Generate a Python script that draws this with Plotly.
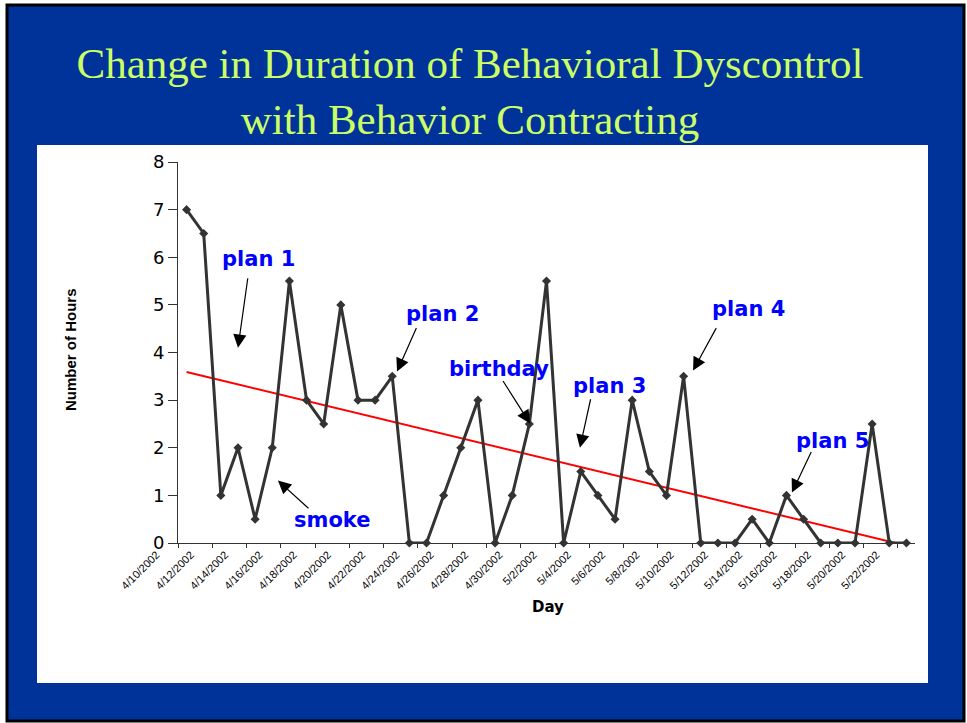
"""Change in duration of behavioral dyscontrol, redrawn with Plotly."""

import numpy as np
import pandas as pd
import plotly.graph_objects as go

# one category per day, 4/10/2002 .. 5/22/2002
days = [f"{d.month}/{d.day}/{d.year}" for d in pd.date_range("2002-04-10", "2002-05-22")]

hours = [
    7, 6.5, 1, 2, 0.5, 2, 5.5, 3, 2.5, 5, 3, 3, 3.5, 0, 0,
    1, 2, 3, 0, 1, 2.5, 5.5, 0, 1.5, 1, 0.5, 3, 1.5, 1, 3.5,
    0, 0, 0, 0.5, 0, 1, 0.5, 0, 0, 0, 2.5, 0, 0,
]

event_labels = ["plan 1", "smoke", "plan 2", "birthday", "plan 3", "plan 4", "plan 5"]

W, H = 967, 723
L, R, T, B = 178, 915, 162, 543  # plot area in pixels


def paper(x, y):
    """Pixel position on the page -> paper coordinates."""
    return (x - L) / (R - L), (B - y) / (B - T)


# linear trend, same as the Excel trendline
idx = np.arange(len(hours))
slope, icept = np.polyfit(idx, hours, 1)
trend = slope * idx + icept

fig = go.Figure()

fig.add_trace(
    go.Scatter(
        x=days,
        y=trend,
        mode="lines",
        line=dict(color="#ff0000", width=2),
        hoverinfo="skip",
        showlegend=False,
    )
)

fig.add_trace(
    go.Scatter(
        x=days,
        y=hours,
        mode="lines+markers",
        line=dict(color="#333333", width=3),
        marker=dict(symbol="diamond", size=7, color="#333333"),
        cliponaxis=False,
        showlegend=False,
    )
)

# background: blue slide with black frame, white chart box
x0, y0 = paper(7, 721)
x1, y1 = paper(964, 5)
fig.add_shape(type="rect", xref="paper", yref="paper", x0=x0, y0=y0, x1=x1, y1=y1,
              fillcolor="#003399", line=dict(color="black", width=3), layer="below")
x0, y0 = paper(37, 683)
x1, y1 = paper(928, 145)
fig.add_shape(type="rect", xref="paper", yref="paper", x0=x0, y0=y0, x1=x1, y1=y1,
              fillcolor="white", line=dict(width=0), layer="below")

# event callouts: text position and arrow tip in data units, arrow tail offset in px
callouts = [
    (4.22, 5.97, 3.0, 4.10, 10, -71),
    (8.48, 0.49, 5.33, 1.31, 32, 29),
    (14.96, 4.80, 12.28, 3.60, 20, -45),
    (18.23, 3.66, 20.04, 2.51, -28, -44),
    (24.70, 3.30, 22.95, 2.00, 11, -50),
    (32.76, 4.92, 29.55, 3.62, 24, -44),
    (37.66, 2.15, 35.32, 1.06, 20, -42),
]
for label, (tx, ty, hx, hy, ax, ay) in zip(event_labels, callouts):
    fig.add_annotation(
        x=tx, y=ty, text=f"<b>{label}</b>", showarrow=False,
        font=dict(family="DejaVu Sans", size=21, color="#0000ff"),
    )
    fig.add_annotation(
        x=hx, y=hy, text="", showarrow=True, ax=ax, ay=ay,
        arrowhead=2, arrowsize=2.2, arrowwidth=1.2, arrowcolor="black",
    )

# axis titles
xt, yt = paper(548, 607)
fig.add_annotation(xref="paper", yref="paper", x=xt, y=yt, text="<b>Day</b>",
                   xanchor="center", yanchor="middle", showarrow=False,
                   font=dict(family="DejaVu Sans", size=15, color="black"))
xt, yt = paper(70, 350)
fig.add_annotation(xref="paper", yref="paper", x=xt, y=yt, text="<b>Number of Hours</b>",
                   textangle=-90, xanchor="center", yanchor="middle", showarrow=False,
                   font=dict(family="Liberation Sans", size=15, color="black"))

fig.update_layout(
    width=W,
    height=H,
    margin=dict(l=L, r=W - R, t=T, b=H - B),
    paper_bgcolor="white",
    plot_bgcolor="rgba(0,0,0,0)",
    title=dict(
        text="Change in Duration of Behavioral Dyscontrol<br>with Behavior Contracting",
        x=470 / W,
        xanchor="center",
        y=1 - 78 / H,
        yanchor="middle",
        font=dict(family="Liberation Serif", size=43, color="#ccff66"),
    ),
)

fig.update_xaxes(
    type="category",
    range=[-0.5, len(days) - 0.5],
    tickmode="linear",
    tick0=0,
    dtick=2,
    tickson="boundaries",
    ticks="outside",
    ticklen=4,
    tickcolor="#333333",
    tickangle=-45,
    ticklabelshift=-30,
    tickfont=dict(family="Liberation Sans", size=11, color="black"),
    showline=True,
    linecolor="#333333",
    linewidth=1,
    showgrid=False,
    zeroline=False,
)

fig.update_yaxes(
    range=[0, 8],
    dtick=1,
    ticks="outside",
    ticklen=9,
    tickcolor="#333333",
    tickfont=dict(family="DejaVu Sans", size=18, color="black"),
    showline=True,
    linecolor="#333333",
    linewidth=1,
    showgrid=False,
    zeroline=False,
)

# drop the default 8px page margin so the figure sits at the window origin
fig.write_html(
    "out.html",
    config={"displayModeBar": False},
    post_script="document.body.style.margin = '0';",
)
